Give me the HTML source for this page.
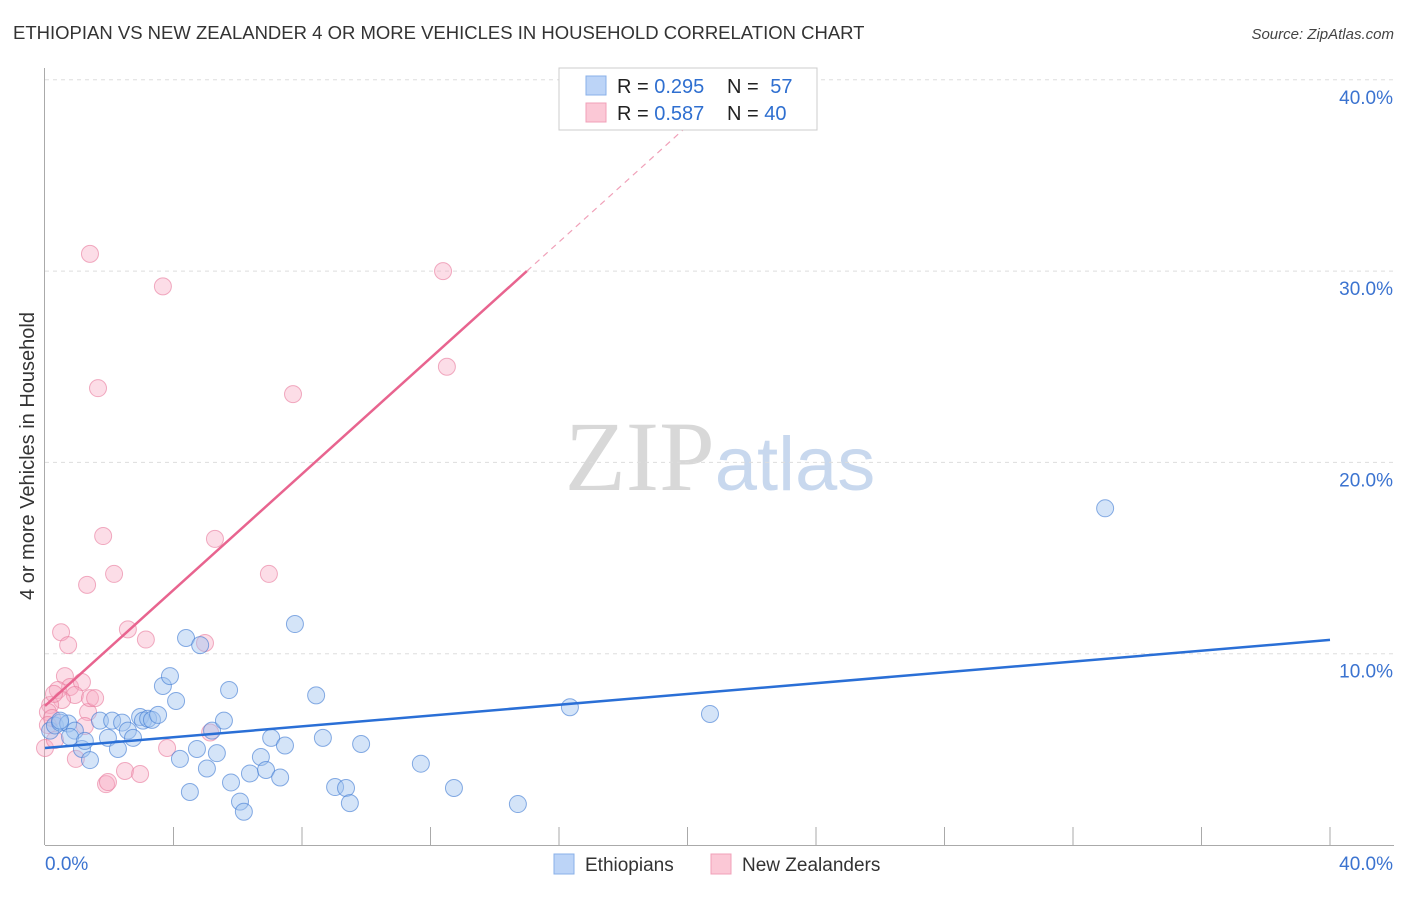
<!DOCTYPE html>
<html><head><meta charset="utf-8">
<style>
body{margin:0;background:#fff;font-family:"Liberation Sans",sans-serif;}
svg text{font-family:"Liberation Sans",sans-serif;}
</style></head>
<body>
<svg id="chart" width="1406" height="892" viewBox="0 0 1406 892" xmlns="http://www.w3.org/2000/svg">
<text x="13" y="39" font-size="18.5" fill="#333">ETHIOPIAN VS NEW ZEALANDER 4 OR MORE VEHICLES IN HOUSEHOLD CORRELATION CHART</text>
<text x="1394" y="39" font-size="15" fill="#444" text-anchor="end" font-style="italic">Source: ZipAtlas.com</text>
<text x="720" y="490" font-size="100" text-anchor="middle"><tspan fill="#d8d8d8" font-family="Liberation Serif">ZIP</tspan><tspan fill="#c8d8ee" font-size="76">atlas</tspan></text>
<g id="grid"></g>
<g id="axes"></g>
<text transform="translate(34,456) rotate(-90)" font-size="20" fill="#333" text-anchor="middle">4 or more Vehicles in Household</text>
<g id="marks"></g>
<g id="lines"></g>
<g>
<rect x="559" y="68" width="258" height="62" fill="#fff" stroke="#ccc"/>
<rect x="586" y="76" width="20" height="19" fill="#bcd4f7" stroke="#8ab0e8"/>
<rect x="586" y="103" width="20" height="19" fill="#fbc8d6" stroke="#f0a0b8"/>
<text x="617" y="93" font-size="20" fill="#222">R = <tspan fill="#2f6fd0">0.295</tspan></text>
<text x="727" y="93" font-size="20" fill="#222">N = <tspan fill="#2f6fd0" dx="6">57</tspan></text>
<text x="617" y="120" font-size="20" fill="#222">R = <tspan fill="#2f6fd0">0.587</tspan></text>
<text x="727" y="120" font-size="20" fill="#222">N = <tspan fill="#2f6fd0">40</tspan></text>
</g>
<g>
<rect x="554" y="854" width="20" height="20" fill="#bcd4f7" stroke="#8ab0e8"/>
<text x="585" y="871" font-size="19" fill="#333">Ethiopians</text>
<rect x="711" y="854" width="20" height="20" fill="#fbc8d6" stroke="#f0a0b8"/>
<text x="742" y="871" font-size="19" fill="#333">New Zealanders</text>
</g>
</svg>
<script>
const yTicks=[10,20,30,40];
const yTickLabels=["10.0%","20.0%","30.0%","40.0%"];
const xTickLabels=["0.0%","40.0%"];
const ethX=[0.16,0.31,0.47,0.72,0.93,0.78,1.15,1.4,1.24,1.71,1.96,2.09,2.27,2.4,2.58,2.74,2.96,3.05,3.21,3.33,3.52,3.67,3.89,4.08,4.2,4.39,4.51,4.73,4.83,5.04,5.2,5.35,5.57,5.73,5.79,6.07,6.19,6.38,6.72,6.88,7.04,7.32,7.47,7.78,8.44,8.65,9.03,9.37,9.49,9.84,11.7,12.73,14.72,16.34,20.7,33.0,0.47];
const ethY=[5.98,6.25,6.4,6.35,5.98,5.65,5.02,4.44,5.44,6.5,5.6,6.5,5.02,6.4,5.98,5.6,6.69,6.5,6.6,6.54,6.8,8.31,8.83,7.53,4.5,10.82,2.77,5.02,10.45,4.0,5.98,4.8,6.5,8.1,3.27,2.27,1.74,3.74,4.6,3.92,5.6,3.53,5.2,11.55,7.82,5.6,3.03,2.98,2.19,5.28,4.25,2.98,2.14,7.2,6.85,17.6,6.5];
const nzX=[1.4,3.67,12.39,7.72,1.65,12.51,1.81,5.29,1.31,2.15,6.97,0.5,0.72,2.58,3.14,4.98,0.62,0.78,1.15,0.4,0.93,0.53,0.16,0.09,0.22,0.0,0.31,1.34,1.24,1.4,0.96,3.8,2.49,2.96,1.9,1.96,5.14,0.09,1.56,0.28];
const nzY=[30.9,29.2,30.0,23.57,23.88,25.0,16.15,16.0,13.6,14.17,14.17,11.12,10.45,11.27,10.74,10.56,8.83,8.26,8.52,8.1,7.84,7.58,7.32,6.95,6.64,5.07,5.49,6.95,6.22,7.68,4.5,5.07,3.87,3.71,3.18,3.29,5.88,6.27,7.68,7.9];
const ethLine=[0,5.07,40,10.72];
const nzLine=[0,7.27,15.0,30.0];
const nzDash=[15.0,30.0,20.2,37.9];

const NS="http://www.w3.org/2000/svg";
const X=v=>45+v/40*1285;
const Y=v=>845-v*19.13;
function mk(tag,attrs,parent){const e=document.createElementNS(NS,tag);for(const k in attrs)e.setAttribute(k,attrs[k]);parent.appendChild(e);return e;}
const grid=document.getElementById('grid'),axes=document.getElementById('axes'),marks=document.getElementById('marks'),lines=document.getElementById('lines');
yTicks.forEach((t,i)=>{
  const l=mk('line',{x1:45,x2:1394,y1:Y(t),y2:Y(t),stroke:'#ddd','stroke-dasharray':'4,4'},grid);
  
  
  const tx=mk('text',{x:1393,y:Y(t)+24,'font-size':19,fill:'#3b73d0','text-anchor':'end'},axes);
  tx.textContent=yTickLabels[i];
  
  
});
const ax=mk('line',{x1:44.5,x2:44.5,y1:68,y2:845,stroke:'#aaa'},axes);


const bx=mk('line',{x1:45,x2:1394,y1:845.5,y2:845.5,stroke:'#aaa'},axes);


for(let i=1;i<=10;i++){
  const t=mk('line',{x1:X(i*4),x2:X(i*4),y1:827,y2:845,stroke:'#aaa'},axes);
  
  
}
[[0,'start',45],[40,'end',1393]].forEach((d,i)=>{
  const t=mk('text',{x:d[2],y:870,'font-size':19,fill:'#3b73d0','text-anchor':d[1]},axes);
  t.textContent=xTickLabels[i];
  
  
});
nzX.forEach((v,i)=>{
  const c=mk('circle',{cx:X(v),cy:Y(nzY[i]),r:8.5,fill:'rgba(248,170,195,0.4)',stroke:'rgba(232,120,155,0.6)','stroke-width':1},marks);
  
  
});
ethX.forEach((v,i)=>{
  const c=mk('circle',{cx:X(v),cy:Y(ethY[i]),r:8.5,fill:'rgba(160,195,240,0.45)',stroke:'rgba(60,120,210,0.6)','stroke-width':1},marks);
  
  
});
const bl=mk('line',{x1:X(ethLine[0]),y1:Y(ethLine[1]),x2:X(ethLine[2]),y2:Y(ethLine[3]),stroke:'#2a6fd6','stroke-width':2.5},lines);


const pl=mk('line',{x1:X(nzLine[0]),y1:Y(nzLine[1]),x2:X(nzLine[2]),y2:Y(nzLine[3]),stroke:'#e8648f','stroke-width':2.5},lines);


const pd=mk('line',{x1:X(nzDash[0]),y1:Y(nzDash[1]),x2:X(nzDash[2]),y2:Y(nzDash[3]),stroke:'#f0a0b8','stroke-width':1.2,'stroke-dasharray':'6,5'},lines);


</script>
</body></html>
